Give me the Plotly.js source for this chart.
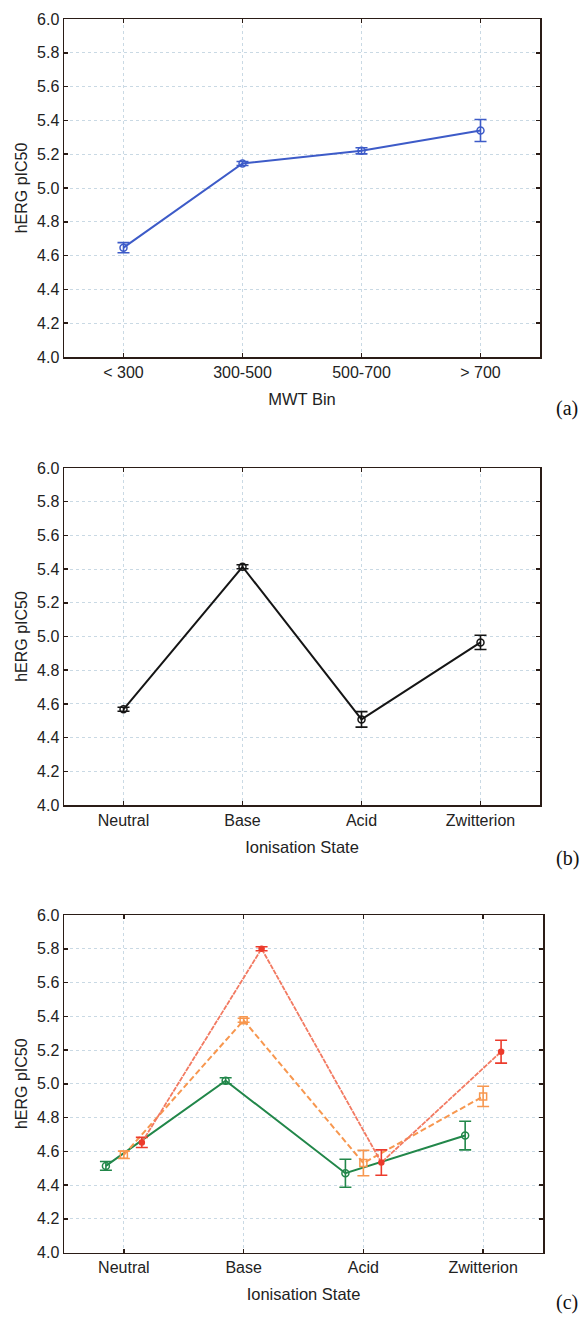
<!DOCTYPE html>
<html>
<head>
<meta charset="utf-8">
<script src="https://cdn.plot.ly/plotly-3.0.1.min.js"></script>
<style>html,body{margin:0;padding:0;background:#fff;}#chart{width:584px;height:1318px;}</style>
</head>
<body>
<div id="chart"></div>
<script>
// ---- data ----
const mwtBins = ['< 300', '300-500', '500-700', '> 700'];
const mwtMean = [4.647, 5.145, 5.220, 5.340];
const mwtErr  = [0.030, 0.012, 0.018, 0.065];

const ionStates = ['Neutral', 'Base', 'Acid', 'Zwitterion'];
const ionMean = [4.568, 5.414, 4.508, 4.965];
const ionErr  = [0.012, 0.012, 0.046, 0.042];

const greenMean  = [4.513, 5.018, 4.470, 4.693];
const greenErr   = [0.026, 0.018, 0.083, 0.085];
const orangeMean = [4.579, 5.376, 4.530, 4.925];
const orangeErr  = [0.022, 0.012, 0.075, 0.060];
const redMean    = [4.652, 5.800, 4.533, 5.190];
const redErr     = [0.030, 0.012, 0.075, 0.068];

const yTickVals = [4.0, 4.2, 4.4, 4.6, 4.8, 5.0, 5.2, 5.4, 5.6, 5.8, 6.0];

// ---- helpers ----
const W = 584, H = 1318;
const idx = (arr, off) => arr.map((_, i) => i + (off || 0));
const FONT = '"Liberation Sans", Arial, sans-serif';
const frame = '#2a1c16';

function series(xa, ya, cats, mean, err, color, lineColor, dash, symbol, off, lw, msize) {
  return {
    type: 'scatter', mode: 'lines+markers',
    x: idx(cats, off), y: mean,
    xaxis: xa, yaxis: ya,
    line: {color: lineColor, width: lw, dash: dash},
    marker: {symbol: symbol, size: msize, color: color, line: {color: color, width: 1.5}},
    error_y: {type: 'data', array: err, visible: true, color: color, thickness: 1.6, width: 6},
    hoverinfo: 'skip', showlegend: false, cliponaxis: false
  };
}

function xAxis(cats, domain, anchor, title) {
  return {
    domain: domain, anchor: anchor, range: [-0.5, 3.5],
    tickvals: idx(cats), ticktext: cats,
    ticks: 'inside', ticklen: 4, tickwidth: 1.5, tickcolor: frame,
    showline: true, linecolor: frame, linewidth: 1.5, mirror: 'ticks',
    showgrid: true, gridcolor: '#c9d9e4', griddash: 'dot', gridwidth: 1,
    zeroline: false, fixedrange: true,
    tickfont: {family: FONT, size: 16, color: '#222'},
    title: {text: title, font: {family: FONT, size: 16.5, color: '#222'}, standoff: 13}
  };
}
function yAxis(domain, anchor) {
  return {
    domain: domain, anchor: anchor, range: [4.0, 6.0],
    tickvals: yTickVals, tickformat: '.1f',
    ticks: 'inside', ticklen: 4, tickwidth: 1.5, tickcolor: frame,
    showline: true, linecolor: frame, linewidth: 1.5, mirror: 'ticks',
    showgrid: true, gridcolor: '#c9d9e4', griddash: 'dot', gridwidth: 1,
    zeroline: false, fixedrange: true,
    tickfont: {family: FONT, size: 16, color: '#222'},
    title: {text: 'hERG pIC50', font: {family: FONT, size: 16, color: '#222'}, standoff: 5}
  };
}

const dxa = [64 / W, 540 / W];
const dxc = [64 / W, 543 / W];
const dya = [1 - 357 / H, 1 - 19 / H];
const dyb = [1 - 805 / H, 1 - 468 / H];
const dyc = [1 - 1252.5 / H, 1 - 915 / H];

const traces = [
  series('x', 'y', mwtBins, mwtMean, mwtErr, '#3d5bc8', '#3d5bc8', 'solid', 'circle-open', 0, 2, 7),
  series('x2', 'y2', ionStates, ionMean, ionErr, '#151515', '#151515', 'solid', 'circle-open', 0, 2, 7),
  series('x3', 'y3', ionStates, greenMean, greenErr, '#22874a', '#22874a', 'solid', 'circle-open', -0.15, 2, 7),
  series('x3', 'y3', ionStates, orangeMean, orangeErr, '#f7974f', '#f7974f', '6px,3px', 'square-open', 0, 2, 7),
  series('x3', 'y3', ionStates, redMean, redErr, '#ec3b2c', '#f27a62', '5px,1px', 'circle', 0.15, 1.8, 5)
];

const layout = {
  width: W, height: H,
  margin: {l: 0, r: 0, t: 0, b: 0},
  paper_bgcolor: '#fff', plot_bgcolor: '#fff',
  showlegend: false, hovermode: false,
  xaxis: xAxis(mwtBins, dxa, 'y', 'MWT Bin'),
  yaxis: yAxis(dya, 'x'),
  xaxis2: xAxis(ionStates, dxa, 'y2', 'Ionisation State'),
  yaxis2: yAxis(dyb, 'x2'),
  xaxis3: xAxis(ionStates, dxc, 'y3', 'Ionisation State'),
  yaxis3: yAxis(dyc, 'x3'),
  annotations: [
    {text: '(a)', x: 567 / W, y: 1 - 408 / H},
    {text: '(b)', x: 567 / W, y: 1 - 858 / H},
    {text: '(c)', x: 567 / W, y: 1 - 1302 / H}
  ].map(a => Object.assign(a, {xref: 'paper', yref: 'paper', showarrow: false,
    xanchor: 'center', yanchor: 'middle',
    font: {family: '"Liberation Serif", "Times New Roman", serif', size: 20, color: '#111'}}))
};

Plotly.newPlot('chart', traces, layout, {displayModeBar: false, staticPlot: true});
</script>
</body>
</html>
